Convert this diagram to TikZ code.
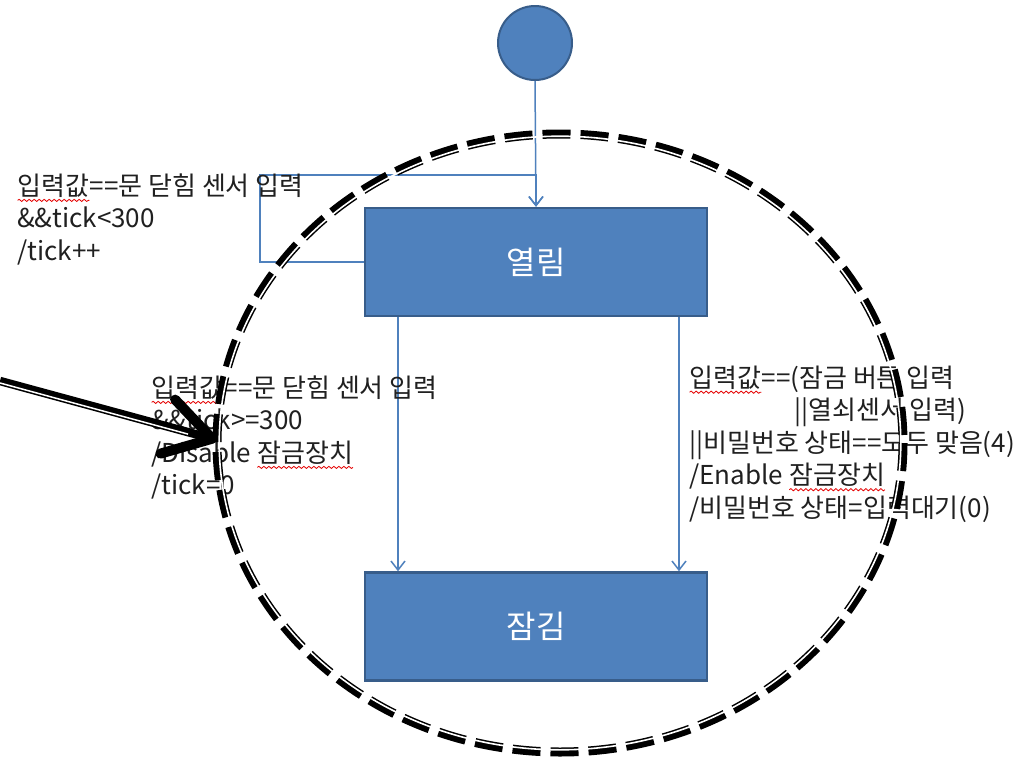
\documentclass[tikz,border=0pt]{standalone}
\usepackage{fontspec}
\setmainfont{Noto Sans CJK KR}
\usetikzlibrary{arrows.meta,decorations.pathmorphing}
\definecolor{boxblue}{HTML}{4F81BD}
\definecolor{boxedge}{HTML}{385D8A}
\definecolor{txtgray}{HTML}{202020}
\newcommand\wavy[1]{\tikz[baseline=(w.base)]{\node[inner sep=0pt,outer sep=0pt](w){#1};\draw[red!90!black,line width=0.8pt,decorate,decoration={snake,amplitude=1.1pt,segment length=5pt}] ([yshift=-5pt]w.base west)--([yshift=-5pt]w.base east);}}
\begin{document}
\begin{tikzpicture}[x=1pt,y=-1pt,
  state/.style={draw=boxedge, line width=2.5pt, fill=boxblue, minimum width=342pt, minimum height=108pt, text=white, font=\fontsize{32}{36}\selectfont, inner sep=0pt},
  init/.style={circle, draw=boxedge, line width=2pt, fill=boxblue, minimum size=74pt, inner sep=0pt},
  trans/.style={draw=boxblue, line width=1.5pt, -{Straight Barb[length=9pt,width=14pt]}},
  lbl/.style={align=left, anchor=north west, inner sep=0pt, text=txtgray, font=\fontsize{26}{32.5}\selectfont},
  bigline/.style={line width=9pt, dash pattern=on 28pt off 10pt}
]
\useasboundingbox (0,0) rectangle (1029,758);
\fill[white] (0,0) rectangle (1029,758);

\node[init] (init) at (535,43) {};
\node[state] (open) at (536,262) {열림};
\node[state] (lock) at (536,626.5) {잠김};

\coordinate (loopA) at (260,262);
\coordinate (loopB) at (260,175);
\draw[trans] (init.south) -- (open.north);
\draw[trans] (open.west) -- (loopA) -- (loopB) -- (open.north |- loopB) -- (open.north);
\draw[trans] ([xshift=-138pt]open.south) -- ([xshift=-138pt]lock.north);
\draw[trans] ([xshift=143pt]open.south) -- ([xshift=143pt]lock.north);

\node[lbl] (l1) at (17,173.5) {\wavy{입력값}==문 닫힘 센서 입력\\\&\&tick<300\\/tick++};
\node[lbl] (l2) at (151,375.5) {\wavy{입력값}==문 닫힘 센서 입력\\\&\&tick>=300\\/Disable \wavy{잠금장치}\\/tick=0};
\node[lbl] (l3) at (689,365.5) {\wavy{입력값}==(잠금 버튼 입력\\\hspace*{105pt}||열쇠센서 입력)\\||비밀번호 상태==모두 맞음(4)\\/Enable \wavy{잠금장치}\\/비밀번호 상태=입력대기(0)};

% dashed double-compound ellipse
\coordinate (ellc) at (560,443);
\draw[bigline] (ellc) ellipse [x radius=343, y radius=309];
\draw[white, line width=1.6pt] (ellc) ellipse [x radius=340.8, y radius=306.8];

% big black arrow
\coordinate (bigStart) at (0,381);
\coordinate (bigTip) at (217,440);
\draw[line width=8.5pt, -{Straight Barb[length=46pt,width=56pt,line width=10pt,round]}] (bigStart) -- (bigTip);
\draw[white, line width=1.5pt, shorten >=30pt] ([yshift=-2pt]bigStart) -- ([yshift=-2pt]bigTip);
\end{tikzpicture}
\end{document}
